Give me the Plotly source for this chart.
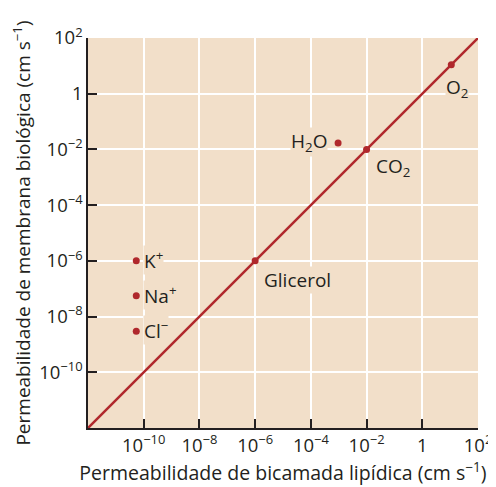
import math
import plotly.graph_objects as go

# Data
names = ["K<sup>+</sup>", "Na<sup>+</sup>", "Cl<sup>−</sup>", "Glicerol", "H<sub>2</sub>O", "CO<sub>2</sub>", "O<sub>2</sub>"]
bilayer = [5.4e-11, 5.4e-11, 5.4e-11, 1e-6, 9.5e-4, 1e-2, 11]
membrane = [1e-6, 5.6e-8, 3e-9, 1e-6, 1.7e-2, 1e-2, 11]
line_x = [1e-12, 1e2]
line_y = [1e-12, 1e2]
tick_vals = [1e-10, 1e-8, 1e-6, 1e-4, 1e-2, 1, 1e2]
tick_text = ["10<sup>−10</sup>", "10<sup>−8</sup>", "10<sup>−6</sup>", "10<sup>−4</sup>",
             "10<sup>−2</sup>", "1", "10<sup>2</sup>"]

RED = "#b0282c"
BG = "#f2dfc9"
FONT = "Open Sans, Noto Sans, sans-serif"
TXT = "#231f20"

fig = go.Figure()
fig.add_trace(go.Scatter(x=line_x, y=line_y, mode="lines",
                         line=dict(color=RED, width=2.5), hoverinfo="skip", showlegend=False))
fig.add_trace(go.Scatter(x=bilayer, y=membrane, mode="markers",
                         marker=dict(color=RED, size=7), showlegend=False))

# label placement: (xanchor, yanchor, xshift, yshift)
place = [
    ("left", "middle", 7, 1),
    ("left", "middle", 7, 1),
    ("left", "middle", 7, 1),
    ("left", "top", 8, -5),
    ("right", "middle", -10, 1),
    ("left", "top", 8, -3),
    ("center", "top", 6, -8),
]
for n, x, y, (xa, ya, xs, ys) in zip(names, bilayer, membrane, place):
    fig.add_annotation(x=math.log10(x), y=math.log10(y), xref="x", yref="y", text=n,
                       showarrow=False, xanchor=xa, yanchor=ya, xshift=xs, yshift=ys,
                       font=dict(family=FONT, size=19, color=TXT),
                       bgcolor=BG, borderpad=0)

axis_common = dict(
    type="log", tickvals=tick_vals, ticktext=tick_text,
    showgrid=True, gridcolor="white", gridwidth=1.5,
    showline=True, linecolor=TXT, linewidth=1.5,
    ticks="inside", ticklen=9, tickwidth=1.5, tickcolor=TXT,
    tickfont=dict(family=FONT, size=18.5, color=TXT),
    zeroline=False, mirror=False, automargin=False,
)
fig.update_xaxes(range=[-12, 2], **axis_common,
                 title=dict(text="Permeabilidade de bicamada lipídica (cm s<sup>−1</sup>)",
                            font=dict(family=FONT, size=19.5, color=TXT), standoff=8))
fig.update_yaxes(range=[-12, 2], **axis_common,
                 title=dict(text="Permeabilidade de membrana biológica (cm s<sup>−1</sup>)",
                            font=dict(family=FONT, size=19, color=TXT), standoff=5))

# page body has an 8px default margin, so the figure is offset by 8px
fig.update_layout(
    width=496, height=479,
    margin=dict(l=80, r=26, t=30, b=59),
    plot_bgcolor=BG, paper_bgcolor="white",
    font=dict(family=FONT, color=TXT),
)
fig.write_html("out.html")
